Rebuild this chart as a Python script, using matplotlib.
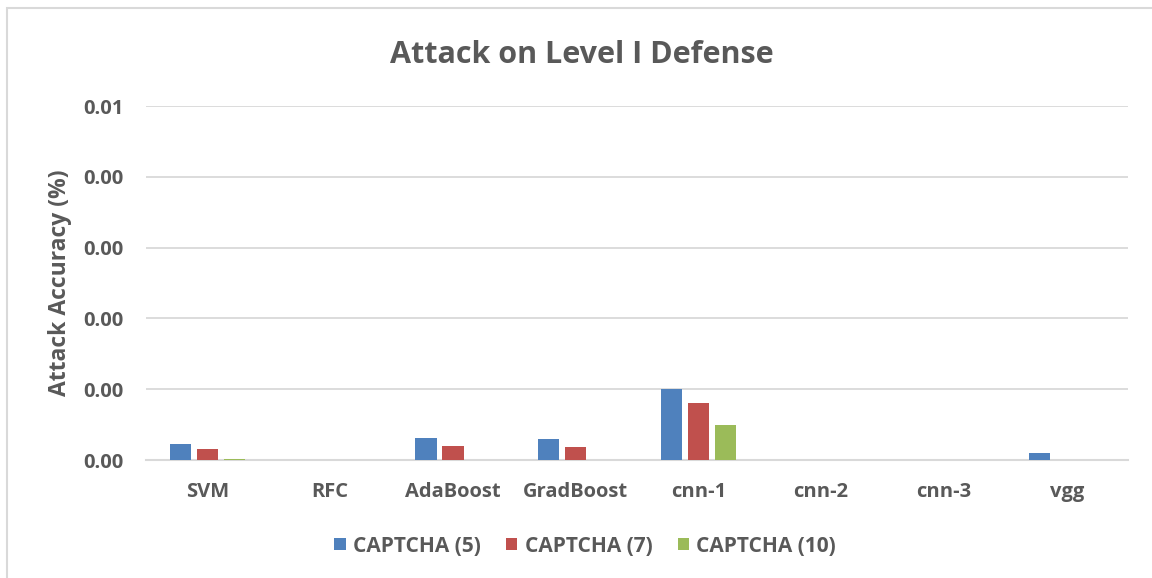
import matplotlib.pyplot as plt
import numpy as np
from matplotlib.patches import Rectangle

plt.rcParams['font.family'] = ['Open Sans', 'DejaVu Sans']
plt.rcParams['font.weight'] = 'bold'

models = ['SVM', 'RFC', 'AdaBoost', 'GradBoost', 'cnn-1', 'cnn-2', 'cnn-3', 'vgg']
series_names = ['CAPTCHA (5)', 'CAPTCHA (7)', 'CAPTCHA (10)']
captcha5 = [0.00046, 0.0, 0.00061, 0.00059, 0.0020, 0.0, 0.0, 0.00019]
captcha7 = [0.00031, 0.0, 0.00040, 0.00037, 0.0016, 0.0, 0.0, 0.0]
captcha10 = [0.00003, 0.0, 0.0, 0.0, 0.0010, 0.0, 0.0, 0.0]
ytick_vals = [0.0, 0.002, 0.004, 0.006, 0.008, 0.01]
ytick_labels = ['0.00', '0.00', '0.00', '0.00', '0.00', '0.01']
colors = ['#4f81bd', '#c0504d', '#9bbb59']

text_col = '#595959'
grid_col = '#d9d9d9'

fig = plt.figure(figsize=(11.52, 5.78), dpi=100)
# chart frame (only the top and left edges fall inside the canvas)
fig.patches.append(Rectangle((7 / 1152, -0.1), 1.2, 1 - 8 / 578 + 0.1,
                             transform=fig.transFigure, fill=False,
                             edgecolor=grid_col, linewidth=1.5))

ax = fig.add_axes([146 / 1152, 1 - 460 / 578, (1128 - 146) / 1152, (460 - 106) / 578])

x = np.arange(len(models))
width = 0.175
offset = 0.22
for i, (vals, name) in enumerate(zip([captcha5, captcha7, captcha10], series_names)):
    ax.bar(x + (i - 1) * offset, vals, width, color=colors[i], label=name, zorder=3)

ax.set_xlim(-0.5, len(models) - 0.5)
ax.set_ylim(0, 0.01)
ax.set_yticks(ytick_vals)
ax.set_yticklabels(ytick_labels)
ax.set_xticks(x)
ax.set_xticklabels(models)
ax.grid(axis='y', color=grid_col, linewidth=1.3, zorder=0)
for s in ['top', 'right', 'left']:
    ax.spines[s].set_visible(False)
ax.spines['bottom'].set_color(grid_col)
ax.spines['bottom'].set_linewidth(1.5)
ax.tick_params(length=0, colors=text_col, labelsize=14.5)
for lab in ax.get_xticklabels() + ax.get_yticklabels():
    lab.set_fontweight('bold')
ax.tick_params(axis='y', pad=16)
ax.tick_params(axis='x', pad=16)

ax.set_ylabel('Attack Accuracy (%)', color=text_col, fontsize=16.5, fontweight='bold', labelpad=8)
fig.text(0.505, 1 - 55 / 578, 'Attack on Level I Defense', ha='center', va='center',
         color=text_col, fontsize=22, fontweight='bold')

leg = fig.legend(loc='center', bbox_to_anchor=(0.508, 1 - 546 / 578), ncol=3, frameon=False,
                 prop={'size': 15, 'weight': 'bold'}, handlelength=0.55, handleheight=0.55,
                 handletextpad=0.35, columnspacing=1.2)
for t in leg.get_texts():
    t.set_color(text_col)

fig.savefig('out.png', dpi=100)
